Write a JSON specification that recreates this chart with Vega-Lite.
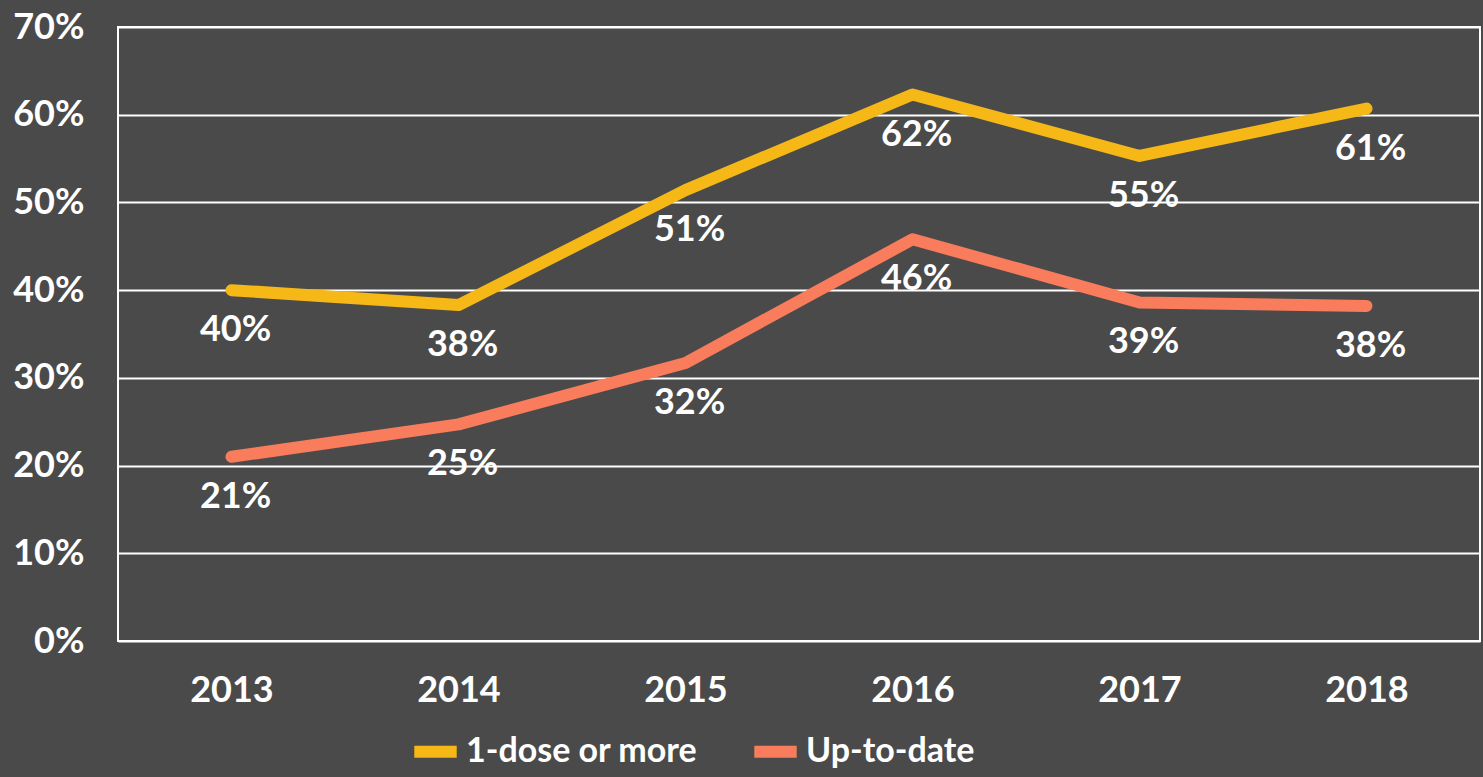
{
  "$schema": "https://vega.github.io/schema/vega-lite/v6.json",
  "width": 1362,
  "height": 614,
  "autosize": {"type": "none"},
  "padding": {"left": 118, "top": 27, "right": 3, "bottom": 136},
  "background": "#4a4a4a",
  "config": {
    "font": "Lato",
    "view": {"stroke": "#ffffff", "strokeWidth": 2, "fill": null},
    "axis": {"labelColor": "#ffffff", "labelFont": "Lato", "labelFontSize": 36, "labelFontWeight": "bold", "title": null, "ticks": false, "domain": false}
  },
  "data": {
    "values": [
      {"year": "2013", "series": "1-dose or more", "value": 0.400},
      {"year": "2014", "series": "1-dose or more", "value": 0.383},
      {"year": "2015", "series": "1-dose or more", "value": 0.514},
      {"year": "2016", "series": "1-dose or more", "value": 0.623},
      {"year": "2017", "series": "1-dose or more", "value": 0.553},
      {"year": "2018", "series": "1-dose or more", "value": 0.607},
      {"year": "2013", "series": "Up-to-date", "value": 0.210},
      {"year": "2014", "series": "Up-to-date", "value": 0.247},
      {"year": "2015", "series": "Up-to-date", "value": 0.317},
      {"year": "2016", "series": "Up-to-date", "value": 0.458},
      {"year": "2017", "series": "Up-to-date", "value": 0.386},
      {"year": "2018", "series": "Up-to-date", "value": 0.382}
    ]
  },
  "encoding": {
    "x": {"field": "year", "type": "ordinal", "scale": {"type": "point", "padding": 0.5}, "axis": {"labelAngle": 0, "labelPadding": 32, "grid": false}},
    "y": {"field": "value", "type": "quantitative", "scale": {"domain": [0, 0.7], "nice": false}, "axis": {"format": ".0%", "values": [0, 0.1, 0.2, 0.3, 0.4, 0.5, 0.6, 0.7], "labelPadding": 34, "grid": true, "gridColor": "#ffffff", "gridWidth": 2, "gridOpacity": 1}}
  },
  "layer": [
    {
      "mark": {"type": "line", "strokeWidth": 12, "strokeCap": "round", "strokeJoin": "round"},
      "encoding": {
        "color": {
          "field": "series", "type": "nominal",
          "scale": {"domain": ["1-dose or more", "Up-to-date"], "range": ["#f5b816", "#f97d5c"]},
          "legend": {
            "title": null, "orient": "none", "direction": "horizontal",
            "legendX": 290, "legendY": 697,
            "symbolType": "stroke", "symbolStrokeWidth": 12, "symbolSize": 1800,
            "labelFont": "Lato", "labelFontSize": 34, "labelFontWeight": "bold", "labelColor": "#ffffff",
            "labelLimit": 0, "labelOffset": 3, "columnPadding": 32, "symbolOffset": 0
          }
        }
      }
    },
    {
      "mark": {"type": "text", "dy": 40, "dx": 4, "color": "#ffffff", "fontSize": 36, "fontWeight": "bold", "font": "Lato"},
      "encoding": {"text": {"field": "value", "type": "quantitative", "format": ".0%"}}
    }
  ]
}
